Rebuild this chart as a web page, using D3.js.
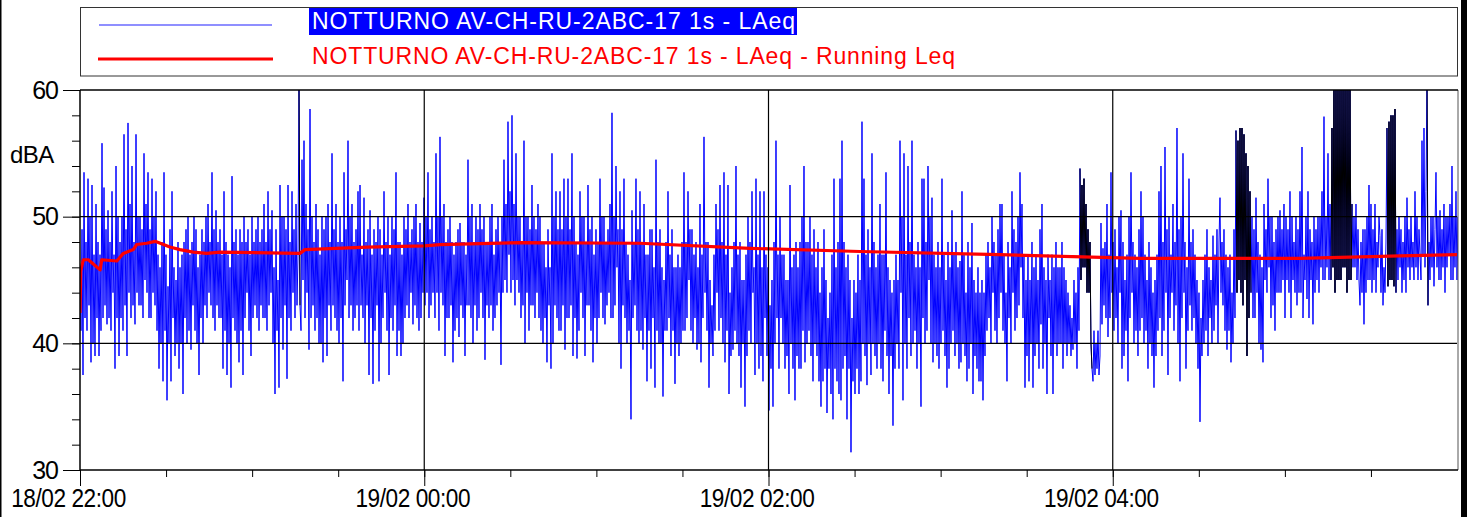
<!DOCTYPE html>
<html>
<head>
<meta charset="utf-8">
<script src="https://cdn.jsdelivr.net/npm/d3@7"></script>
<style>
  body { margin: 0; background: #fff; }
  svg { display: block; font-family: "Liberation Sans", Arial, sans-serif; }
</style>
</head>
<body>
<svg id="chart" width="1469" height="517"></svg>
<script>
const SERIES_NAME = "NOTTURNO AV-CH-RU-2ABC-17 1s - LAeq";
const RUNNING_NAME = "NOTTURNO AV-CH-RU-2ABC-17 1s - LAeq - Running Leq";
const Y_LABEL = "dBA";
const START = "18/02/2020 22:00:00";
const END = "19/02/2020 06:00:00";
const SAMPLE_SEC = 20.915;

const yMajor = [30, 40, 50, 60];
const yMinor = [30, 32, 34, 36, 38, 40, 42, 44, 46, 48, 50, 52, 54, 56, 58, 60];

// LAeq, one value every SAMPLE_SEC seconds (20 per row)
const laeq = [
  45, 41, 49, 37.5, 53.5, 42, 48, 41, 53, 43, 50, 38.5, 52.5, 40, 47, 39, 51, 42, 48, 39,
  47, 41, 55.8, 42, 52.3, 43, 49, 41.5, 50.5, 42, 48, 41, 52, 44, 47, 38, 54, 42, 50, 39,
  48, 42, 50, 41, 56.5, 43, 49, 39, 57.4, 44, 51, 42, 54, 43, 48, 41.5, 56.5, 44, 50, 43,
  50, 43, 49, 42, 55, 45, 51, 44, 53.5, 42, 49, 42, 53, 44, 50, 43, 52, 41, 47, 38,
  46, 40, 48, 37, 53.5, 41, 47, 35.5, 44.5, 40, 49, 37, 52, 42, 46, 39, 45, 40, 48, 38,
  46, 40, 47, 36, 48, 42, 49, 40, 50, 41, 47, 39.5, 48, 43, 50, 41, 49, 40, 46, 37.5,
  47, 42, 49, 40, 48, 43, 50, 42, 51, 44, 48, 43, 53.5, 42, 49, 41, 50.5, 43, 48, 42,
  49, 42, 47, 38, 52, 41, 48, 37.5, 47, 40, 46, 36.5, 53.2, 42, 48, 41, 49, 40, 47, 38.5,
  49, 41, 48, 37.5, 50, 42, 48, 44, 49, 41, 47, 39, 50, 42, 48, 43, 49, 42, 50, 41,
  48, 43, 49, 42, 51, 42, 48, 41, 52, 43, 49, 44, 50.5, 40, 46, 36, 49, 41, 45, 36.5,
  52.5, 42, 50, 39.5, 50, 43, 49, 37.2, 52.5, 42, 48, 41, 52, 44, 49, 42, 51, 43, 47, 60,
  43, 41, 54.5, 45, 56, 42, 51, 44, 49, 39.5, 58.5, 42, 50, 43, 48, 41, 51, 42, 49, 40,
  47, 40, 50, 38.5, 49, 42, 50, 39, 51, 43, 48, 41, 55, 43, 49, 42, 51, 41, 48, 40,
  50, 42, 48, 37, 53.5, 43, 49, 45, 56, 42, 50, 43, 51, 41, 48, 42, 49, 43, 52, 41,
  52.5, 43, 47, 42, 51.5, 40, 48, 43, 49, 37.5, 50.5, 42, 47, 36.8, 49, 41, 48, 43, 50, 37,
  49, 40, 47, 42, 52, 44, 48, 41, 50, 37.5, 47, 42, 50, 41, 49, 43, 53.5, 39, 48, 41,
  48, 39, 47, 40, 50, 42, 49, 43, 51, 42, 48, 44, 49, 41.5, 50, 43, 51, 42, 48, 41,
  49.5, 42, 48, 44, 51.5, 43, 50, 44, 53.5, 42, 49, 43, 50, 44, 48, 42, 55, 44, 50, 41,
  56.3, 44, 50, 43, 51, 39, 48, 42, 49, 42, 50, 43, 48, 38.5, 47, 41, 48, 42, 49, 40.5,
  49.5, 43, 48, 42, 48, 39, 47, 43, 54.5, 43, 50, 42, 51, 40, 48, 43, 50, 41, 49, 42,
  51, 44, 49, 42, 50, 38.7, 48, 43, 48, 42, 50, 43, 51, 41, 47, 42, 49, 43, 50, 44,
  48, 38.3, 50, 44, 54.5, 45, 51, 44, 57.5, 47, 52, 44, 58, 45, 51, 43, 55, 45, 50, 44,
  50, 42, 48, 43, 56, 40, 50, 44, 50, 41, 49, 43, 52.5, 43, 50, 42, 49, 44, 51, 42,
  50, 41, 48, 40, 48, 42, 46, 38.5, 49, 43, 46, 38, 55, 40, 50, 43, 52, 42, 49, 41,
  52, 41, 49, 43, 53, 39.5, 50, 42, 53, 42, 49, 43, 55, 39, 50, 42, 48, 38.8, 47, 41,
  52, 44, 50, 42, 50, 39, 48, 43, 52.5, 43, 49, 41, 50, 38.5, 47, 42, 49, 40, 48, 42,
  53, 44, 50, 42, 50, 41.5, 48, 43, 49, 44, 51, 42, 58.2, 42, 50, 43, 54, 46, 49, 40,
  52, 38, 49, 43, 53, 42, 48, 40, 47, 41, 45, 34, 50.5, 42, 48, 43, 53, 41, 49, 40,
  52, 41, 48, 39.5, 51, 42, 47, 37, 47, 41, 49, 38, 49, 42, 46, 36.5, 54.5, 41, 48, 40,
  49, 40, 46, 35.8, 45, 41, 48, 41, 52, 42, 47, 39, 49, 41, 46, 36.8, 46, 40, 47, 39,
  46, 40, 48, 41, 53.5, 41, 48, 42, 52, 45, 49, 41, 49, 40, 47, 42, 48, 39.5, 46, 40,
  51, 38.5, 47, 42, 56.3, 44, 48, 41, 48, 36.5, 45, 40, 43, 39, 47, 41, 51, 44, 49, 41,
  52.5, 42, 48, 40, 53.5, 38.5, 47, 41, 52.5, 36, 44, 39, 46, 39.5, 48, 41, 54, 40, 47, 39,
  48, 36.5, 45, 40, 45, 35, 47, 39, 50, 41, 48, 40, 52, 44, 46, 37.5, 53, 40, 47, 38,
  52, 39, 46, 37, 52, 42, 47, 39, 46, 34.7, 43, 38, 45, 35, 48, 40, 56, 42, 47, 38,
  50, 42, 47, 40, 47, 38, 45, 39, 45, 36, 52.5, 40, 46, 38, 47, 35.5, 48, 39, 46, 38,
  48, 38, 50, 41, 54, 38.5, 48, 40, 48, 41, 50, 39, 47, 37, 49, 40, 46, 39, 48, 37,
  44, 35, 46, 37, 49, 38, 45, 34.5, 42, 38, 44, 36, 47, 34, 53, 38, 46, 37, 48, 36,
  53, 35.5, 56, 38, 48, 39, 46, 34, 47, 38, 45, 31.4, 42, 37, 45, 36, 44, 38, 47, 36,
  45, 37, 57.5, 40, 53, 39, 47, 36.7, 49, 40, 46, 37.5, 55, 40, 48, 39, 46, 38, 47, 40,
  51, 38, 47, 37, 47, 41, 53.5, 39, 46, 36, 45, 39, 44, 33.5, 45, 38, 47, 40, 45, 38,
  56, 44, 50, 35.5, 55, 40, 47, 38, 54, 42, 48, 39, 56, 40, 47, 41, 46, 38, 48, 40,
  46, 35, 53, 42, 53, 40, 48, 41, 54, 45, 50, 40, 51.5, 38.5, 47, 40, 46, 39, 48, 38,
  46, 40, 53, 41, 47, 39, 45, 36.5, 48, 38, 46, 40, 50.5, 41, 47, 39, 48, 40, 46, 38,
  46.5, 38.5, 52, 40, 47, 39, 44, 37, 48, 38, 46, 40, 49.5, 36, 45, 39, 44, 38, 46, 37,
  44, 37, 45, 35.5, 44, 39, 47, 41, 48, 42, 46, 40, 50, 44, 48, 41, 47, 40, 49, 42,
  51, 44, 51, 41, 47, 40, 44, 37, 48, 42, 46, 40, 52, 44, 49, 41, 48, 42, 50, 43,
  53.5, 46, 51, 42, 47, 36.5, 45, 39, 47, 37, 45, 40, 48, 36.5, 46, 39, 47, 40, 45, 38,
  49, 41.5, 51, 38, 46, 40, 45, 36, 47, 42, 45, 39, 47, 36, 46, 40, 48, 39, 46, 40,
  46, 40, 48, 38, 46, 40, 45, 39, 44, 40, 43, 39, 42, 39.5, 45, 40, 44, 38, 46, 41,
  53.8, 45, 52.5, 46, 53, 46, 51, 44, 49, 44, 48, 40, 38, 37, 41, 37.5, 40, 38, 41, 37.5,
  39, 49.5, 41.5, 47.5, 43, 48, 42, 51, 40.5, 47, 42, 53.5, 44, 48, 41, 49, 42, 46, 40, 50,
  44, 50.5, 38, 48, 39, 45, 41, 47, 37, 50, 42, 53.5, 44, 48, 40, 47, 41, 46, 39, 49,
  41, 52, 42, 50, 40, 47, 41, 45, 38, 48, 40, 46, 39, 44, 36.5, 45, 39, 47, 41, 52,
  42, 54, 39, 48, 41, 55.5, 44, 49, 37.5, 50, 42, 47, 44, 51, 41, 48, 43, 57, 40, 49,
  37, 50, 42, 55, 44, 48, 38, 46, 41, 53, 43, 48, 41, 49, 42, 47, 40, 45, 38, 44,
  33.8, 42, 39, 45, 40, 47, 41, 49, 39, 46, 42, 45, 40, 48.5, 41, 47, 43, 49, 40, 48,
  51.5, 44, 48, 43, 49, 41, 47, 39.5, 46, 41, 47, 38.5, 44, 40, 49, 42, 56.8, 44, 56, 45,
  57, 44, 57, 43, 56.5, 45, 55, 39, 54, 42, 52, 44, 50, 42, 49, 42, 51.5, 44, 48, 40,
  47, 39.5, 46, 38.5, 51, 45, 49, 44, 53, 46, 50, 42, 50, 43, 48, 41, 49, 44, 50, 44,
  50.5, 44, 49, 45, 51, 42, 50, 45, 49, 44, 52, 42, 50, 45, 48, 44, 50, 43, 49, 44,
  52, 44, 55.5, 42, 47, 45, 50, 43.5, 52, 42, 49, 45, 48, 41.5, 50, 44, 49, 45, 50, 44,
  50, 46, 52, 45, 57.9, 45, 50, 46, 55, 45, 51, 45, 57, 46, 61, 44, 61, 45, 61, 45,
  61, 45, 61, 46, 61, 46, 61, 44, 61, 45, 60, 45, 51, 46, 50, 46, 51, 45, 49, 45,
  43, 48, 44, 49, 41.5, 49, 44, 50, 45, 52.5, 45, 51, 44, 49, 45, 51, 44, 48, 46, 50,
  48.5, 44, 49, 43, 46, 44, 48, 57, 44.5, 57.5, 45, 58, 45, 58, 44.5, 58.5, 44, 49, 45, 50,
  46, 49, 44, 48, 45, 50, 44, 51.5, 46, 49, 45, 50, 46, 48, 45, 52, 46, 50, 45, 49,
  47, 45, 56, 47, 57, 46, 52, 61, 43, 48, 45, 50, 46, 50, 44.5, 49, 53.5, 46, 50, 45,
  50.5, 45, 49, 46, 51, 44, 50, 46, 50, 47, 51, 45, 54, 45, 50, 46, 52, 45, 50, 43.5
];

// running Leq (clock time, dBA)
const runningLeq = [
  ["22:00:00", 42.4], ["22:00:15", 45.7], ["22:01:10", 46.6], ["22:02:55", 46.6],
  ["22:07:00", 45.8], ["22:07:35", 46.6], ["22:12:50", 46.5], ["22:15:05", 47.1],
  ["22:18:35", 47.4], ["22:19:45", 47.8], ["22:23:15", 47.9], ["22:26:10", 48.05],
  ["22:31:20", 47.6], ["22:34:50", 47.4], ["22:39:30", 47.2], ["22:44:10", 47.1],
  ["22:48:50", 47.2], ["23:16:40", 47.1], ["23:18:25", 47.4], ["23:40:00", 47.6],
  ["00:00:00", 47.7], ["00:05:30", 47.8], ["00:33:20", 47.95], ["01:15:10", 47.9],
  ["01:53:30", 47.5], ["02:31:50", 47.25], ["03:20:40", 47.0], ["04:09:30", 46.7],
  ["05:05:15", 46.7], ["05:40:10", 46.9], ["06:00:00", 47.0]
];

// stretches drawn in black (masked events)
const excluded = [
  ["23:16:12", "23:16:50"],
  ["03:48:30", "03:53:00"],
  ["04:42:50", "04:48:15"],
  ["05:15:50", "05:23:30"],
  ["05:35:25", "05:38:50"],
  ["05:49:25", "05:50:00"]
];

const parse = d3.timeParse("%d/%m/%Y %H:%M:%S");
const t0 = parse(START);
const t1 = parse(END);
const clock = (s) => {
  const h = +s.slice(0, 2);
  return parse((h >= 12 ? "18" : "19") + "/02/2020 " + s);
};

const plot = { left: 80, right: 1457, top: 90, bottom: 470 };

const svg = d3.select("#chart");
const x = d3.scaleTime().domain([t0, t1]).range([plot.left, plot.right]);
const y = d3.scaleLinear().domain([30, 60]).range([plot.bottom, plot.top]);

const samples = laeq.map((v, i) => ({ t: new Date(t0.getTime() + i * SAMPLE_SEC * 1000), v: v }));

svg.append("defs").append("clipPath").attr("id", "plotclip")
  .append("rect")
  .attr("x", plot.left).attr("y", plot.top)
  .attr("width", plot.right + 1 - plot.left).attr("height", plot.bottom - plot.top);

const line = d3.line().x((d) => x(d.t)).y((d) => y(d.v));

const data = svg.append("g").attr("clip-path", "url(#plotclip)");

data.append("path")
  .datum(samples)
  .attr("fill", "none")
  .attr("stroke", "#0000ff")
  .attr("stroke-width", 1)
  .attr("d", line);

excluded.forEach(([a, b]) => {
  const ta = clock(a), tb = clock(b);
  const seg = samples.filter((d) => d.t >= ta && d.t <= tb);
  data.append("path")
    .datum(seg)
    .attr("fill", "none")
    .attr("stroke", "#000")
    .attr("stroke-width", 1)
    .attr("d", line);
});

// grid
const grid = svg.append("g").attr("stroke", "#000").attr("stroke-width", 1.2);
[40, 50].forEach((v) => {
  grid.append("line")
    .attr("x1", plot.left).attr("x2", plot.right)
    .attr("y1", y(v)).attr("y2", y(v));
});
d3.timeHour.every(2).range(d3.timeMinute.offset(t0, 1), t1).forEach((t) => {
  grid.append("line")
    .attr("x1", x(t)).attr("x2", x(t))
    .attr("y1", plot.top).attr("y2", plot.bottom);
});

data.append("path")
  .datum(runningLeq.map(([c, v]) => ({ t: clock(c), v: v })))
  .attr("fill", "none")
  .attr("stroke", "#ff0000")
  .attr("stroke-width", 3.2)
  .attr("stroke-linejoin", "round")
  .attr("d", line);

// plot frame
svg.append("line").attr("x1", plot.right + 1).attr("x2", plot.right + 1)
  .attr("y1", plot.top).attr("y2", plot.bottom)
  .attr("stroke", "#555").attr("stroke-width", 1);
svg.append("line").attr("x1", plot.left).attr("x2", plot.right + 1)
  .attr("y1", plot.top).attr("y2", plot.top)
  .attr("stroke", "#000").attr("stroke-width", 1.5);

// y axis
const yMinorAxis = svg.append("g")
  .attr("transform", `translate(${plot.left},0)`)
  .call(d3.axisLeft(y).tickValues(yMinor).tickSize(8).tickFormat(""));
const yAxis = svg.append("g")
  .attr("transform", `translate(${plot.left},0)`)
  .call(d3.axisLeft(y).tickValues(yMajor).tickSize(17).tickPadding(5).tickFormat(d3.format("d")));
[yMinorAxis, yAxis].forEach((g) => {
  g.select(".domain").remove();
  g.selectAll("line").attr("stroke", "#000");
});
yAxis.selectAll("text")
  .attr("font-size", 25)
  .attr("letter-spacing", -1)
  .attr("fill", "#000")
  .attr("font-family", "Liberation Sans, Arial, sans-serif");

svg.append("text")
  .attr("x", 10).attr("y", 163)
  .attr("font-size", 24)
  .attr("letter-spacing", -0.5)
  .text(Y_LABEL);

// x axis
const xMinorAxis = svg.append("g")
  .attr("transform", `translate(0,${plot.bottom})`)
  .call(d3.axisBottom(x).tickValues(d3.timeMinute.every(30).range(t0, t1)).tickSize(7).tickFormat(""));
const xAxis = svg.append("g")
  .attr("transform", `translate(0,${plot.bottom})`)
  .call(d3.axisBottom(x).tickValues(d3.timeHour.every(2).range(t0, t1))
    .tickSize(16).tickPadding(3).tickFormat(d3.timeFormat("%d/%m %H:%M")));
[xMinorAxis, xAxis].forEach((g) => {
  g.select(".domain").remove();
  g.selectAll("line").attr("stroke", "#000");
});
xAxis.selectAll("text")
  .attr("font-size", 26)
  .attr("letter-spacing", -0.5)
  .attr("fill", "#000")
  .attr("font-family", "Liberation Sans, Arial, sans-serif")
  .attr("transform", "translate(-12,0) scale(0.87,1)");

svg.append("line").attr("x1", plot.left).attr("x2", plot.left)
  .attr("y1", plot.top).attr("y2", plot.bottom)
  .attr("stroke", "#000").attr("stroke-width", 1.5);
svg.append("line").attr("x1", plot.left).attr("x2", plot.right + 1)
  .attr("y1", plot.bottom).attr("y2", plot.bottom)
  .attr("stroke", "#000").attr("stroke-width", 1.5);

// legend
const legend = svg.append("g");
legend.append("rect")
  .attr("x", 80.5).attr("y", 7.5).attr("width", 1377).attr("height", 68.5)
  .attr("fill", "none").attr("stroke", "#333").attr("stroke-width", 1);
legend.append("line")
  .attr("x1", 99).attr("x2", 272).attr("y1", 25).attr("y2", 25)
  .attr("stroke", "#6a6aff").attr("stroke-width", 1.5);
legend.append("line")
  .attr("x1", 98).attr("x2", 273).attr("y1", 59).attr("y2", 59)
  .attr("stroke", "#ff0000").attr("stroke-width", 3.2);
legend.append("rect")
  .attr("x", 309).attr("y", 8).attr("width", 488).attr("height", 27)
  .attr("fill", "#0000ff");
legend.append("text")
  .attr("x", 312).attr("y", 29)
  .attr("font-size", 23)
  .attr("fill", "#fff")
  .attr("textLength", 483).attr("lengthAdjust", "spacing")
  .text(SERIES_NAME);
legend.append("text")
  .attr("x", 312).attr("y", 64)
  .attr("font-size", 23)
  .attr("fill", "#ff0000")
  .attr("textLength", 643).attr("lengthAdjust", "spacing")
  .text(RUNNING_NAME);

// window edges
svg.append("rect").attr("x", 0).attr("y", 0).attr("width", 1.5).attr("height", 517).attr("fill", "#000");
svg.append("rect").attr("x", 1461).attr("y", 0).attr("width", 6).attr("height", 517).attr("fill", "#000");
</script>
</body>
</html>
